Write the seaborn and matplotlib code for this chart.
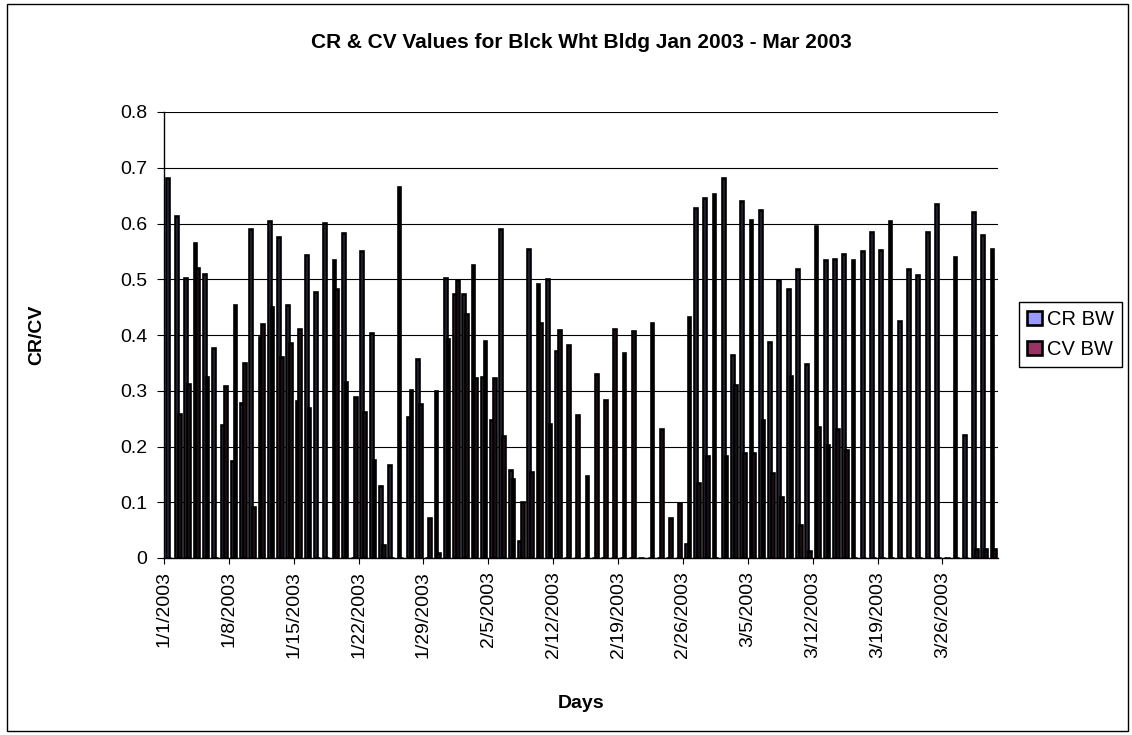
import numpy as np
import pandas as pd
import matplotlib
matplotlib.use("Agg")
import matplotlib.pyplot as plt
import seaborn as sns
from matplotlib.patches import Rectangle, Patch

# Daily dates, Jan 1 - Mar 31 2003
dates = pd.date_range("2003-01-01", "2003-03-31", freq="D")
day_labels = [f"{d.month}/{d.day}/{d.year}" for d in dates]

# Daily CR values for the Blck Wht building
cr_bw = [0.681, 0.613, 0.502, 0.565, 0.509, 0.376, 0.238, 0.174, 0.278, 0.591,
         0.397, 0.604, 0.576, 0.453, 0.282, 0.543, 0.478, 0.601, 0.534, 0.583,
         0.000, 0.551, 0.403, 0.129, 0.167, 0.666, 0.253, 0.357, 0.000, 0.300,
         0.503, 0.474, 0.474, 0.526, 0.325, 0.247, 0.590, 0.158, 0.030, 0.554,
         0.492, 0.501, 0.372, 0.000, 0.000, 0.000, 0.000, 0.000, 0.000, 0.000,
         0.000, 0.000, 0.000, 0.000, 0.000, 0.000, 0.026, 0.628, 0.646, 0.653,
         0.681, 0.364, 0.640, 0.607, 0.624, 0.388, 0.498, 0.483, 0.519, 0.348,
         0.595, 0.534, 0.537, 0.546, 0.535, 0.550, 0.584, 0.552, 0.604, 0.426,
         0.519, 0.507, 0.585, 0.635, 0.000, 0.540, 0.221, 0.621, 0.579, 0.555]

# Daily CV values for the Blck Wht building
cv_bw = [0.000, 0.259, 0.313, 0.520, 0.325, 0.000, 0.308, 0.454, 0.349, 0.092,
         0.420, 0.451, 0.360, 0.385, 0.411, 0.269, 0.000, 0.000, 0.482, 0.316,
         0.288, 0.261, 0.175, 0.024, 0.000, 0.000, 0.301, 0.276, 0.071, 0.009,
         0.393, 0.499, 0.438, 0.323, 0.389, 0.322, 0.218, 0.142, 0.101, 0.154,
         0.421, 0.241, 0.409, 0.382, 0.256, 0.147, 0.330, 0.283, 0.411, 0.367,
         0.408, 0.000, 0.422, 0.232, 0.071, 0.098, 0.432, 0.134, 0.183, 0.000,
         0.183, 0.310, 0.188, 0.188, 0.248, 0.153, 0.110, 0.327, 0.060, 0.012,
         0.235, 0.202, 0.232, 0.194, 0.000, 0.000, 0.000, 0.000, 0.000, 0.000,
         0.000, 0.000, 0.000, 0.000, 0.000, 0.000, 0.000, 0.016, 0.016, 0.016]

series_names = ["CR BW", "CV BW"]
series_colors = ["#9999FF", "#993366"]
y_ticks = [0, 0.1, 0.2, 0.3, 0.4, 0.5, 0.6, 0.7, 0.8]
y_tick_labels = ["0", "0.1", "0.2", "0.3", "0.4", "0.5", "0.6", "0.7", "0.8"]

df = pd.DataFrame({
    "Days": day_labels * 2,
    "Series": [series_names[0]] * len(cr_bw) + [series_names[1]] * len(cv_bw),
    "Value": cr_bw + cv_bw,
})

sns.set_theme(style="white")
plt.rcParams["font.family"] = ["Liberation Sans", "DejaVu Sans"]
plt.rcParams["text.color"] = "black"
plt.rcParams["xtick.color"] = "black"
plt.rcParams["ytick.color"] = "black"
plt.rcParams["axes.labelcolor"] = "black"

fig = plt.figure(figsize=(11.32, 7.35), dpi=100)
fig.patch.set_facecolor("white")
ax = fig.add_axes([164 / 1132, 1 - 558 / 735, (998 - 164) / 1132, (558 - 112) / 735])
ax.set_facecolor("white")

sns.barplot(data=df, x="Days", y="Value", hue="Series", order=day_labels,
            hue_order=series_names, palette=series_colors, width=0.6,
            edgecolor="black", linewidth=1.9, errorbar=None, ax=ax,
            legend=False, zorder=3)

ax.set_xlim(-0.5, len(day_labels) - 0.5)
ax.set_ylim(0, 0.8)
ax.set_yticks(y_ticks)
ax.set_yticklabels(y_tick_labels, fontsize=14)
tick_idx = list(range(0, len(day_labels), 7))
ax.set_xticks([i - 0.5 for i in tick_idx])
ax.set_xticklabels([day_labels[i] for i in tick_idx], rotation=90, fontsize=14)

ax.yaxis.grid(True, color="black", linewidth=0.8, zorder=0)
ax.xaxis.grid(False)
ax.set_axisbelow(True)
for side in ["top", "right"]:
    ax.spines[side].set_visible(False)
for side in ["left", "bottom"]:
    ax.spines[side].set_color("black")
    ax.spines[side].set_linewidth(1.0)

ax.tick_params(axis="y", direction="out", length=5, width=0.8, color="black",
               pad=7, left=True)
ax.tick_params(axis="x", direction="out", length=4.5, width=0.8, color="black",
               pad=5, bottom=True)

ax.set_xlabel("Days", fontsize=14, fontweight="bold", labelpad=12)
ax.set_ylabel("CR/CV", fontsize=14, fontweight="bold", labelpad=0)
ax.xaxis.set_label_coords(0.5, (558 - 695) / 446)
ax.yaxis.set_label_coords((45 - 164) / 834, 0.5)

fig.text(581 / 1132, 1 - 42 / 735,
         "CR & CV Values for Blck Wht Bldg Jan 2003 - Mar 2003",
         ha="center", va="center", fontsize=15, fontweight="bold")

handles = [Patch(facecolor=c, edgecolor="black", linewidth=1.9) for c in series_colors]
leg = fig.legend(handles, series_names, loc="upper left",
                 bbox_to_anchor=(1019 / 1132, 1 - 302 / 735), fontsize=14.5,
                 frameon=True, fancybox=False, edgecolor="black", framealpha=1,
                 handlelength=0.75, handleheight=0.75, handletextpad=0.25,
                 labelspacing=0.55, borderpad=0.4, borderaxespad=0)
leg.get_frame().set_linewidth(1.0)

# Chart-area border
fig.patches.append(Rectangle((7 / 1132, 4 / 735), (1128 - 7) / 1132, (731 - 4) / 735,
                             transform=fig.transFigure, fill=False,
                             edgecolor="black", linewidth=1.0))

fig.savefig("out.png", dpi=100, facecolor="white")
